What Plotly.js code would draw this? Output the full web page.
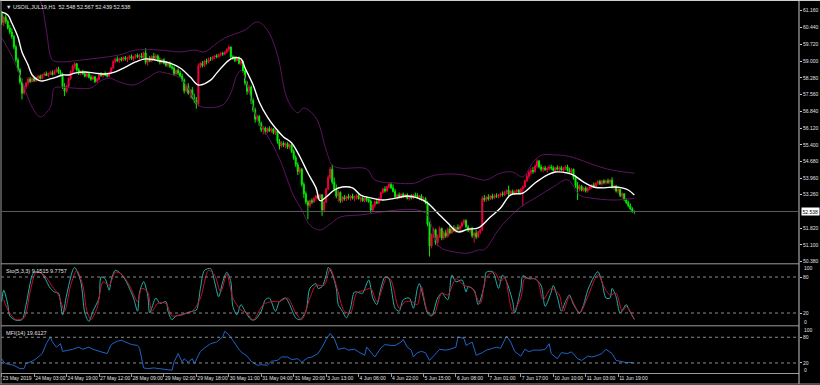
<!DOCTYPE html>
<html><head><meta charset="utf-8">
<script src="https://cdn.plot.ly/plotly-3.0.1.min.js"></script>
<style>html,body{margin:0;padding:0;background:#000;}#chart{width:820px;height:385px;}</style>
</head><body><div id="chart"></div>
<script>
// ---- DATA ----
const symbol = "USOIL,JUL19,H1";
const timeLabels = ["23 May 2019","24 May 03:00","24 May 19:00","27 May 12:00","28 May 09:00","29 May 02:00","29 May 18:00","30 May 11:00","31 May 04:00","31 May 20:00","3 Jun 13:00","4 Jun 06:00","4 Jun 22:00","5 Jun 15:00","6 Jun 08:00","7 Jun 01:00","7 Jun 17:00","10 Jun 10:00","11 Jun 03:00","11 Jun 19:00"];
const timeLabelBars = [0,16,32,48,64,80,96,112,128,144,160,176,192,208,224,240,256,272,288,304];
const priceTicks = [61.160,60.440,59.720,59.000,58.280,57.560,56.840,56.120,55.400,54.680,53.960,53.260,51.820,51.100,50.380];
const levelTicks = [20,80];
const scaleEnds = [0,100];

const open = [61.05,60.65,60.88,60.70,60.42,60.25,60.05,59.60,59.05,58.62,58.10,57.62,57.90,58.05,58.22,58.12,58.25,58.15,58.28,58.35,
58.25,58.40,58.45,58.38,58.47,58.50,58.42,58.55,58.65,58.50,58.42,57.90,57.70,57.92,58.25,58.55,58.78,58.88,58.62,58.48,
58.52,58.45,58.35,58.45,58.30,58.22,58.32,58.12,58.22,58.40,58.38,58.45,58.40,58.35,58.50,58.70,58.98,59.08,59.02,59.10,
59.05,59.15,59.08,59.12,59.20,59.10,59.18,59.25,59.18,59.22,59.15,59.35,58.95,59.10,59.00,59.20,59.12,59.22,59.02,58.95,
59.05,58.90,58.82,58.90,58.75,58.70,58.45,58.60,58.48,58.35,58.18,57.72,57.92,57.62,57.75,57.42,57.30,57.15,58.80,58.90,
58.80,59.00,58.95,59.10,59.08,59.18,59.22,59.18,59.28,59.32,59.30,59.38,59.50,59.60,59.18,59.15,59.02,59.12,58.90,58.98,
58.58,58.05,57.70,57.88,57.30,56.90,56.50,56.62,56.30,56.05,56.12,55.95,56.10,56.00,56.08,55.92,55.98,55.55,55.35,55.48,
55.38,55.45,55.30,55.40,55.12,54.85,54.55,54.25,54.35,53.70,53.30,52.95,52.80,53.00,52.95,53.10,53.20,53.12,53.25,52.60,
52.95,53.50,54.00,54.35,53.80,53.50,53.20,53.35,53.00,53.15,53.08,53.18,53.12,53.20,53.10,53.15,53.22,53.08,53.12,53.00,
53.10,53.05,52.98,52.60,52.80,52.95,52.90,53.10,53.35,53.50,53.42,53.60,53.70,53.55,53.40,53.18,53.25,53.15,53.28,53.18,
53.25,53.10,53.18,53.12,53.25,53.22,53.15,53.20,53.05,53.10,52.92,52.00,51.05,51.50,51.75,51.20,51.45,51.80,51.40,51.62,
51.48,51.78,51.62,51.80,51.72,51.85,51.78,51.90,52.05,52.15,51.88,51.72,51.80,51.50,51.60,51.45,51.65,51.75,53.10,53.05,
53.15,53.08,53.20,53.12,53.22,53.18,53.25,53.30,53.25,53.38,53.45,53.28,53.40,53.32,53.40,53.45,53.35,53.50,53.60,53.85,
54.05,54.22,54.30,54.25,54.50,54.70,54.45,54.35,54.40,54.33,54.38,54.45,54.40,54.30,54.42,54.35,54.42,54.32,54.40,54.45,
54.30,54.22,54.35,54.00,53.65,53.50,53.62,53.45,53.55,53.42,53.52,53.60,53.68,53.62,53.75,53.82,53.72,53.85,53.78,53.85,
53.80,53.88,53.58,53.62,53.42,53.48,53.22,53.30,53.05,52.92,52.78,52.65,52.548];
const high = [61.15,60.95,61.00,60.78,60.55,60.40,60.12,59.70,59.15,58.70,58.25,57.95,58.10,58.30,58.32,58.30,58.35,58.33,58.40,58.42,
58.45,58.52,58.55,58.50,58.58,58.60,58.62,58.72,58.75,58.62,58.50,58.05,57.98,58.30,58.60,58.85,58.95,58.92,58.70,58.60,
58.62,58.55,58.50,58.52,58.40,58.38,58.35,58.28,58.45,58.52,58.48,58.55,58.50,58.55,58.75,59.05,59.15,59.20,59.15,59.18,
59.20,59.22,59.18,59.25,59.28,59.22,59.30,59.32,59.30,59.35,59.40,59.55,59.15,59.22,59.25,59.35,59.30,59.28,59.15,59.10,
59.12,59.00,58.95,58.98,58.85,58.78,58.65,58.68,58.58,58.45,58.25,58.00,58.05,57.80,57.88,57.60,57.45,58.90,58.95,59.00,
59.05,59.10,59.15,59.18,59.22,59.25,59.30,59.32,59.38,59.40,59.42,59.55,59.68,59.62,59.25,59.22,59.18,59.20,59.05,59.02,
58.65,58.15,57.98,57.95,57.40,57.00,56.70,56.68,56.40,56.20,56.18,56.15,56.20,56.15,56.12,56.05,56.00,55.65,55.55,55.55,
55.50,55.52,55.45,55.42,55.20,54.95,54.65,54.45,54.40,53.80,53.40,53.02,53.05,53.10,53.15,53.25,53.28,53.30,53.28,53.00,
53.55,54.10,54.45,54.55,54.00,53.70,53.45,53.40,53.20,53.25,53.22,53.30,53.25,53.30,53.22,53.28,53.30,53.18,53.20,53.15,
53.18,53.15,53.05,52.85,53.00,53.10,53.15,53.40,53.55,53.62,53.65,53.78,53.80,53.70,53.50,53.30,53.35,53.32,53.35,53.30,
53.32,53.22,53.28,53.30,53.35,53.32,53.25,53.28,53.18,53.15,52.98,52.10,51.60,51.85,51.80,51.55,51.90,51.85,51.70,51.75,
51.85,51.90,51.85,51.95,51.90,51.98,51.95,52.10,52.22,52.20,51.95,51.85,51.88,51.65,51.75,51.70,51.80,53.20,53.25,53.20,
53.28,53.25,53.30,53.28,53.32,53.30,53.35,53.40,53.42,53.48,53.65,53.45,53.48,53.45,53.50,53.50,53.55,53.65,53.90,54.15,
54.30,54.40,54.45,54.55,54.78,54.75,54.55,54.48,54.50,54.45,54.52,54.55,54.50,54.45,54.52,54.48,54.50,54.45,54.52,54.55,
54.42,54.40,54.38,54.10,53.80,53.70,53.68,53.60,53.62,53.58,53.65,53.72,53.78,53.80,53.88,53.90,53.88,53.92,53.90,53.95,
53.92,54.00,53.70,53.68,53.55,53.52,53.35,53.32,53.10,53.00,52.88,52.72,52.567];
const low = [60.55,60.50,60.60,60.35,60.15,59.95,59.50,58.95,58.55,58.00,57.35,57.55,57.80,57.95,58.05,58.08,58.10,58.10,58.20,58.20,
58.22,58.33,58.35,58.30,58.40,58.38,58.40,58.50,58.45,58.35,57.80,57.50,57.62,57.85,58.18,58.48,58.65,58.55,58.40,58.38,
58.40,58.30,58.28,58.25,58.15,58.18,58.05,58.08,58.18,58.32,58.28,58.35,58.30,58.30,58.45,58.65,58.90,58.95,58.92,58.98,
59.00,59.02,58.95,59.05,59.05,59.00,59.10,59.12,59.05,59.10,59.10,58.85,58.80,58.95,58.95,59.05,59.00,58.95,58.85,58.88,
58.85,58.75,58.72,58.70,58.62,58.35,58.40,58.40,58.30,58.10,57.60,57.65,57.55,57.40,57.35,57.20,56.95,57.05,58.70,58.72,
58.75,58.85,58.90,59.00,59.02,59.08,59.12,59.15,59.20,59.22,59.25,59.32,59.40,59.10,59.05,58.95,58.98,58.85,58.80,58.50,
57.95,57.55,57.60,57.15,56.80,56.35,56.40,56.20,55.95,55.85,55.85,55.90,55.95,55.92,55.85,55.82,55.45,55.20,55.28,55.30,
55.25,55.22,55.20,55.05,54.75,54.45,54.10,54.15,53.60,53.12,52.85,52.20,52.70,52.85,52.90,53.00,53.05,53.08,52.35,52.50,
52.90,53.45,53.90,53.70,53.40,53.10,52.95,52.90,52.92,53.00,52.98,53.05,53.00,53.05,52.98,53.05,53.05,52.95,52.95,52.92,
52.95,52.90,52.48,52.55,52.70,52.85,52.85,53.05,53.30,53.35,53.38,53.52,53.50,53.35,53.10,53.05,53.10,53.10,53.12,53.10,
53.05,53.00,53.05,53.08,53.15,53.08,53.02,53.00,52.95,52.85,51.90,50.60,50.95,51.40,51.10,51.05,51.40,51.30,51.32,51.40,
51.42,51.55,51.58,51.65,51.62,51.70,51.70,51.85,51.95,51.80,51.65,51.60,51.40,51.20,51.35,51.40,51.55,51.70,52.95,52.95,
53.00,53.02,53.05,53.08,53.12,53.10,53.15,53.18,53.20,53.28,53.20,53.22,53.25,53.25,53.30,53.28,53.30,52.75,53.55,53.80,
53.95,54.10,54.15,54.20,54.40,54.38,54.25,54.22,54.28,54.20,54.30,54.32,54.25,54.22,54.30,54.25,54.28,54.20,54.30,54.25,
54.15,54.15,53.90,53.55,53.03,53.40,53.40,53.38,53.35,53.35,53.45,53.50,53.55,53.58,53.65,53.68,53.65,53.70,53.70,53.72,
53.72,53.52,53.45,53.35,53.30,53.15,53.10,52.98,52.85,52.72,52.60,52.48,52.439];
const close = [60.65,60.88,60.70,60.42,60.25,60.05,59.60,59.05,58.62,58.10,57.62,57.90,58.05,58.22,58.12,58.25,58.15,58.28,58.35,58.25,
58.40,58.45,58.38,58.47,58.50,58.42,58.55,58.65,58.50,58.42,57.90,57.70,57.92,58.25,58.55,58.78,58.88,58.62,58.48,58.52,
58.45,58.35,58.45,58.30,58.22,58.32,58.12,58.22,58.40,58.38,58.45,58.40,58.35,58.50,58.70,58.98,59.08,59.02,59.10,59.05,
59.15,59.08,59.12,59.20,59.10,59.18,59.25,59.18,59.22,59.15,59.35,58.95,59.10,59.00,59.20,59.12,59.22,59.02,58.95,59.05,
58.90,58.82,58.90,58.75,58.70,58.45,58.60,58.48,58.35,58.18,57.72,57.92,57.62,57.75,57.42,57.30,57.15,58.80,58.90,58.80,
59.00,58.95,59.10,59.08,59.18,59.22,59.18,59.28,59.32,59.30,59.38,59.50,59.60,59.18,59.15,59.02,59.12,58.90,58.98,58.58,
58.05,57.70,57.88,57.30,56.90,56.50,56.62,56.30,56.05,56.12,55.95,56.10,56.00,56.08,55.92,55.98,55.55,55.35,55.48,55.38,
55.45,55.30,55.40,55.12,54.85,54.55,54.25,54.35,53.70,53.30,52.95,52.80,53.00,52.95,53.10,53.20,53.12,53.25,52.60,52.95,
53.50,54.00,54.35,53.80,53.50,53.20,53.35,53.00,53.15,53.08,53.18,53.12,53.20,53.10,53.15,53.22,53.08,53.12,53.00,53.10,
53.05,52.98,52.60,52.80,52.95,52.90,53.10,53.35,53.50,53.42,53.60,53.70,53.55,53.40,53.18,53.25,53.15,53.28,53.18,53.25,
53.10,53.18,53.12,53.25,53.22,53.15,53.20,53.05,53.10,52.92,52.00,51.05,51.50,51.75,51.20,51.45,51.80,51.40,51.62,51.48,
51.78,51.62,51.80,51.72,51.85,51.78,51.90,52.05,52.15,51.88,51.72,51.80,51.50,51.60,51.45,51.65,51.75,53.10,53.05,53.15,
53.08,53.20,53.12,53.22,53.18,53.25,53.30,53.25,53.38,53.45,53.28,53.40,53.32,53.40,53.45,53.35,53.50,53.60,53.85,54.05,
54.22,54.30,54.25,54.50,54.70,54.45,54.35,54.40,54.33,54.38,54.45,54.40,54.30,54.42,54.35,54.42,54.32,54.40,54.45,54.30,
54.22,54.35,54.00,53.65,53.50,53.62,53.45,53.55,53.42,53.52,53.60,53.68,53.62,53.75,53.82,53.72,53.85,53.78,53.85,53.80,
53.88,53.58,53.62,53.42,53.48,53.22,53.30,53.05,52.92,52.78,52.65,52.548,52.538];

// moving average (white) read at sample bars
const maBar = [0,3,5,8,10,13,15,18,20,24,27,30,33,36,41,46,51,56,61,66,71,76,78,83,88,93,97,103,106,111,114,118,120,124,127,131,135,139,143,147,151,155,157,160,164,168,173,177,182,188,195,200,205,210,215,220,225,230,235,241,246,251,257,263,269,273,279,282,287,292,297,302,306,309,312];
const maVal = [61.10,60.98,60.63,60.03,59.39,58.83,58.40,58.18,58.14,58.23,58.31,58.40,58.40,58.48,58.53,58.48,58.44,58.53,58.74,58.96,59.09,59.04,59.00,58.91,58.70,58.31,57.97,58.18,58.48,58.96,59.13,59.09,58.70,57.97,57.24,56.60,56.12,55.74,55.48,54.90,54.19,53.55,53.00,53.16,53.46,53.59,53.55,53.24,53.12,53.03,53.12,53.20,53.12,52.90,52.47,52.04,51.66,51.78,51.83,52.30,52.69,53.25,53.33,53.76,54.10,54.23,54.19,54.10,53.80,53.59,53.55,53.59,53.55,53.46,53.24];
// bollinger upper / lower bands read at sample bars
const upBar = [0,12,19,22,25,29,39,48,58,66,78,88,95,100,105,110,115,120,126,131,136,141,146,149,155,160,163,167,180,184,194,204,209,214,221,228,234,239,246,252,257,262,266,272,280,287,295,302,312];
const upVal = [63.50,62.50,61.62,60.33,59.05,58.96,59.04,59.13,59.26,59.47,59.47,59.39,59.47,59.39,59.69,59.99,60.16,60.33,60.68,60.33,59.26,57.33,56.77,56.98,56.55,55.18,54.53,54.40,54.36,53.89,53.76,53.76,53.97,54.10,54.15,54.10,53.95,53.89,54.19,54.23,54.02,54.65,54.95,54.97,54.90,54.70,54.45,54.30,54.18];
const loBar = [0,5,9,15,19,24,26,29,35,44,48,53,58,65,72,77,80,88,93,96,99,109,113,116,118,121,124,127,131,137,144,148,152,157,162,167,177,187,195,205,210,213,216,223,230,235,238,246,256,264,272,279,285,290,302,312];
const loVal = [60.00,59.20,58.40,57.02,56.60,57.02,57.84,57.88,57.84,57.84,58.10,58.27,58.10,57.97,58.27,58.53,58.50,58.27,57.67,57.20,57.02,57.11,57.63,58.40,58.60,58.00,57.00,56.30,55.80,54.80,53.20,52.60,51.95,51.74,52.00,52.30,52.39,52.51,52.60,52.60,52.39,51.61,51.01,50.80,50.75,50.88,50.90,51.87,52.73,53.16,53.59,53.90,53.24,53.12,53.03,53.10];

// stochastic (5,3,3)
const stoBar = [0,1,3,4,7,10,12,15,16,19,21,24,26,28,30,32,35,36,39,41,43,45,48,49,51,53,54,56,58,61,63,65,67,68,70,72,73,76,78,81,82,84,86,89,91,94,96,98,100,103,105,107,109,111,113,114,116,118,120,123,125,128,130,132,135,137,140,142,145,147,150,152,155,156,158,160,161,163,165,166,168,170,172,174,177,178,181,183,185,187,189,191,192,194,196,198,201,203,205,206,208,210,212,215,217,220,222,224,227,229,230,233,235,238,239,242,243,245,247,249,252,253,256,257,260,263,266,268,271,272,274,276,278,280,282,285,287,289,292,294,296,298,300,301,303,305,308,309,311,312];
const stoMain = [39,58,34,15,8,9,34,83,88,88,80,61,55,53,17,50,91,96,72,20,6,23,45,80,77,58,75,91,88,75,61,45,23,55,72,50,20,45,36,39,23,9,15,17,20,23,25,61,91,94,72,47,72,88,72,31,17,34,23,9,9,23,42,45,23,39,45,34,12,9,23,61,69,61,64,83,96,85,61,34,23,12,28,55,53,53,75,45,34,61,80,77,64,28,23,42,45,28,61,69,45,20,15,45,53,42,83,72,75,55,64,58,34,66,88,89,83,61,83,72,39,20,61,82,77,77,66,31,55,66,47,23,39,50,34,20,34,58,80,89,72,45,45,61,47,20,34,28,15,9.1515];
const sigBar = [1,3,7,11,14,17,21,25,28,31,34,37,40,42,44,47,50,53,56,59,63,67,69,72,74,77,81,84,88,94,98,102,105,108,111,114,118,121,124,129,133,137,141,145,148,152,155,159,162,165,169,172,175,179,182,185,190,192,196,199,202,205,207,210,213,217,220,224,228,232,236,239,243,246,248,252,256,258,264,267,271,275,277,280,285,289,294,297,300,303,306,308,312];
const stoSignal = [42,25,9,12,55,88,83,64,50,23,66,91,66,23,9,28,72,66,88,85,66,39,61,55,23,36,36,15,17,23,45,91,83,55,85,45,25,20,8,34,39,39,45,20,9,45,66,66,94,66,23,20,53,58,61,39,80,75,28,39,39,34,64,23,17,53,50,77,66,61,36,80,88,72,80,23,45,77,75,42,61,50,23,47,20,47,84,64,50,53,23,31,9.7757];

// money flow index (14)
const mfiBar = [0,1,2,6,9,11,12,15,17,20,22,24,25,27,29,30,33,35,38,40,43,45,49,52,54,57,59,62,64,67,68,70,72,75,78,81,84,85,87,89,90,92,94,95,98,100,103,106,109,110,112,114,115,117,118,121,123,126,128,131,133,136,138,141,143,146,148,151,153,156,158,160,162,164,166,169,171,174,176,179,180,182,184,187,189,192,194,197,198,200,202,203,205,207,209,211,214,216,219,221,224,225,228,229,232,234,237,239,242,244,246,249,251,253,256,258,260,262,266,268,270,271,274,276,279,281,284,286,289,291,294,296,298,301,303,306,308,311,312];
const mfiVal = [30,22,18.5,14.6,6.8,6.8,18.5,24,30,42,65,81,69,57,65,47,50,52,57,52,57,52,46,42,63,71,73,67,63,61,54,8.4,6.8,8.4,6.8,5.3,3,22,42,22,30,22,30,18.5,47,55,65,69,81,94,86,73,65,52,46,36,24,14.6,16,14.6,24,26,34,34,28,30,22,32,34,42,57,75,89,77,52,55,50,52,46,38,57,46,34,55,63,61,61,69,75,57,50,34,44,47,44,26,42,52,50,52,57,81,77,61,69,38,44,50,54,57,54,83,69,47,36,52,46,50,50,52,65,42,30,44,42,46,30,26,36,34,38,42,52,42,26,24,21,21,19.6127];

// ---- BUILD ----
const idx = close.map((_, i) => i);
const last = close.length - 1;
const F = "Liberation Sans, Arial, sans-serif";
const txt = "#e0e0e0";

const traces = [
  {type:"scatter", mode:"lines", x:upBar, y:upVal, xaxis:"x", yaxis:"y", line:{color:"#5e1460", width:1, shape:"spline", smoothing:1}, hoverinfo:"skip"},
  {type:"scatter", mode:"lines", x:loBar, y:loVal, xaxis:"x", yaxis:"y", line:{color:"#5e1460", width:1, shape:"spline", smoothing:1}, hoverinfo:"skip"},
  {type:"candlestick", x:idx, open:open, high:high, low:low, close:close, xaxis:"x", yaxis:"y",
   increasing:{line:{color:"#f0003c", width:1}, fillcolor:"#f0003c"},
   decreasing:{line:{color:"#00ee00", width:1}, fillcolor:"#00ee00"},
   whiskerwidth:0, hoverinfo:"skip"},
  {type:"scatter", mode:"lines", x:maBar, y:maVal, xaxis:"x", yaxis:"y", line:{color:"#ffffff", width:1.4, shape:"spline", smoothing:1}, hoverinfo:"skip"},
  {type:"scatter", mode:"lines", x:stoBar, y:stoMain, xaxis:"x", yaxis:"y2", line:{color:"#20b2aa", width:1, shape:"spline", smoothing:0.8}, hoverinfo:"skip"},
  {type:"scatter", mode:"lines", x:sigBar, y:stoSignal, xaxis:"x", yaxis:"y2", line:{color:"#c8102e", width:1, shape:"spline", smoothing:0.8}, hoverinfo:"skip"},
  {type:"scatter", mode:"lines", x:mfiBar, y:mfiVal, xaxis:"x", yaxis:"y3", line:{color:"#1e64c8", width:1}, hoverinfo:"skip"}
];

const pageY = y => (373 - y) / 372;
const grey = "#9a9a9a";
const shapes = [
  {type:"line", xref:"paper", yref:"paper", x0:-0.002, x1:1.03, y0:pageY(0.5), y1:pageY(0.5), line:{color:"#cfcfcf", width:1}},
  {type:"line", xref:"paper", yref:"paper", x0:0, x1:0, y0:pageY(384), y1:pageY(0.5), line:{color:grey, width:1}},
  {type:"line", xref:"paper", yref:"paper", x0:1, x1:1, y0:pageY(384), y1:pageY(0.5), line:{color:"#c8c8c8", width:1}},
  {type:"line", xref:"paper", yref:"paper", x0:0, x1:1, y0:pageY(263.8), y1:pageY(263.8), line:{color:grey, width:1}},
  {type:"line", xref:"paper", yref:"paper", x0:0, x1:1, y0:pageY(325.8), y1:pageY(325.8), line:{color:grey, width:1}},
  {type:"line", xref:"paper", yref:"paper", x0:-0.002, x1:1.03, y0:pageY(384), y1:pageY(384), line:{color:grey, width:1}},
  {type:"line", xref:"paper", yref:"y", x0:0, x1:1, y0:close[last], y1:close[last], line:{color:"#5c5c5c", width:1}},
  {type:"line", xref:"paper", yref:"y2", x0:0, x1:1, y0:80, y1:80, line:{color:"#8a8a8a", width:1, dash:"dot"}},
  {type:"line", xref:"paper", yref:"y2", x0:0, x1:1, y0:20, y1:20, line:{color:"#8a8a8a", width:1, dash:"dot"}},
  {type:"line", xref:"paper", yref:"y3", x0:0, x1:1, y0:80, y1:80, line:{color:"#8a8a8a", width:1, dash:"dot"}},
  {type:"line", xref:"paper", yref:"y3", x0:0, x1:1, y0:20, y1:20, line:{color:"#8a8a8a", width:1, dash:"dot"}}
];

const f3 = v => v.toFixed(3);
const endLabel = (txtv, yPage) => ({xref:"paper", yref:"paper", x:1.004, y:pageY(yPage), xanchor:"left", yanchor:"middle",
  showarrow:false, text:txtv, font:{family:F, size:5, color:txt}});
const annotations = [
  {xref:"paper", yref:"paper", x:0.004, y:pageY(1.5), xanchor:"left", yanchor:"top", showarrow:false,
   text:"\u25BC " + symbol + "  " + f3(open[last]) + " " + f3(high[last]) + " " + f3(low[last]) + " " + f3(close[last]),
   font:{family:F, size:5.5, color:txt}},
  {xref:"paper", yref:"paper", x:0.004, y:pageY(265.5), xanchor:"left", yanchor:"top", showarrow:false,
   text:"Sto(5,3,3) " + stoMain[stoMain.length-1].toFixed(4) + " " + stoSignal[stoSignal.length-1].toFixed(4),
   font:{family:F, size:5.5, color:txt}},
  {xref:"paper", yref:"paper", x:0.004, y:pageY(327.5), xanchor:"left", yanchor:"top", showarrow:false,
   text:"MFI(14) " + mfiVal[mfiVal.length-1].toFixed(4),
   font:{family:F, size:5.5, color:txt}},
  {xref:"paper", yref:"y", x:1.003, y:close[last], xanchor:"left", yanchor:"middle", showarrow:false,
   text:f3(close[last]), bgcolor:"#ffffff", borderpad:0.5, font:{family:F, size:5, color:"#000000"}},
  endLabel(String(scaleEnds[1]), 268), endLabel(String(scaleEnds[0]), 322),
  endLabel(String(scaleEnds[1]), 330), endLabel(String(scaleEnds[0]), 370)
];

const yCommon = {side:"right", showgrid:false, zeroline:false, ticks:"outside", ticklen:2, tickcolor:"#c8c8c8",
  tickfont:{family:F, size:5, color:txt}, showline:false, fixedrange:true};

const layout = {
  width:820, height:385,
  margin:{l:1, r:21, t:1, b:12, pad:0},
  paper_bgcolor:"#000000", plot_bgcolor:"#000000",
  showlegend:false, dragmode:false,
  xaxis:{domain:[0,1], range:[-0.35, 393.2], anchor:"y3", showgrid:false, zeroline:false,
    showline:true, linecolor:grey, ticks:"outside", ticklen:3, tickcolor:grey,
    tickvals:timeLabelBars, ticktext:timeLabels, ticklabelposition:"outside right", tickangle:0,
    automargin:false, tickfont:{family:F, size:5, color:txt}, rangeslider:{visible:false}, fixedrange:true},
  yaxis:Object.assign({}, yCommon, {domain:[pageY(263), 1], range:[61.62 - 0.04295*263, 61.62 - 0.04295*1],
    tickvals:priceTicks, ticktext:priceTicks.map(f3), anchor:"x"}),
  yaxis2:Object.assign({}, yCommon, {domain:[pageY(325), pageY(265)], range:[0, 100],
    tickvals:levelTicks, ticktext:levelTicks.map(String), anchor:"x"}),
  yaxis3:Object.assign({}, yCommon, {domain:[0, pageY(327)], range:[-3.4, 104],
    tickvals:levelTicks, ticktext:levelTicks.map(String), anchor:"x"}),
  shapes:shapes, annotations:annotations
};

Plotly.newPlot("chart", traces, layout, {staticPlot:true, displayModeBar:false});
</script>
</body></html>
